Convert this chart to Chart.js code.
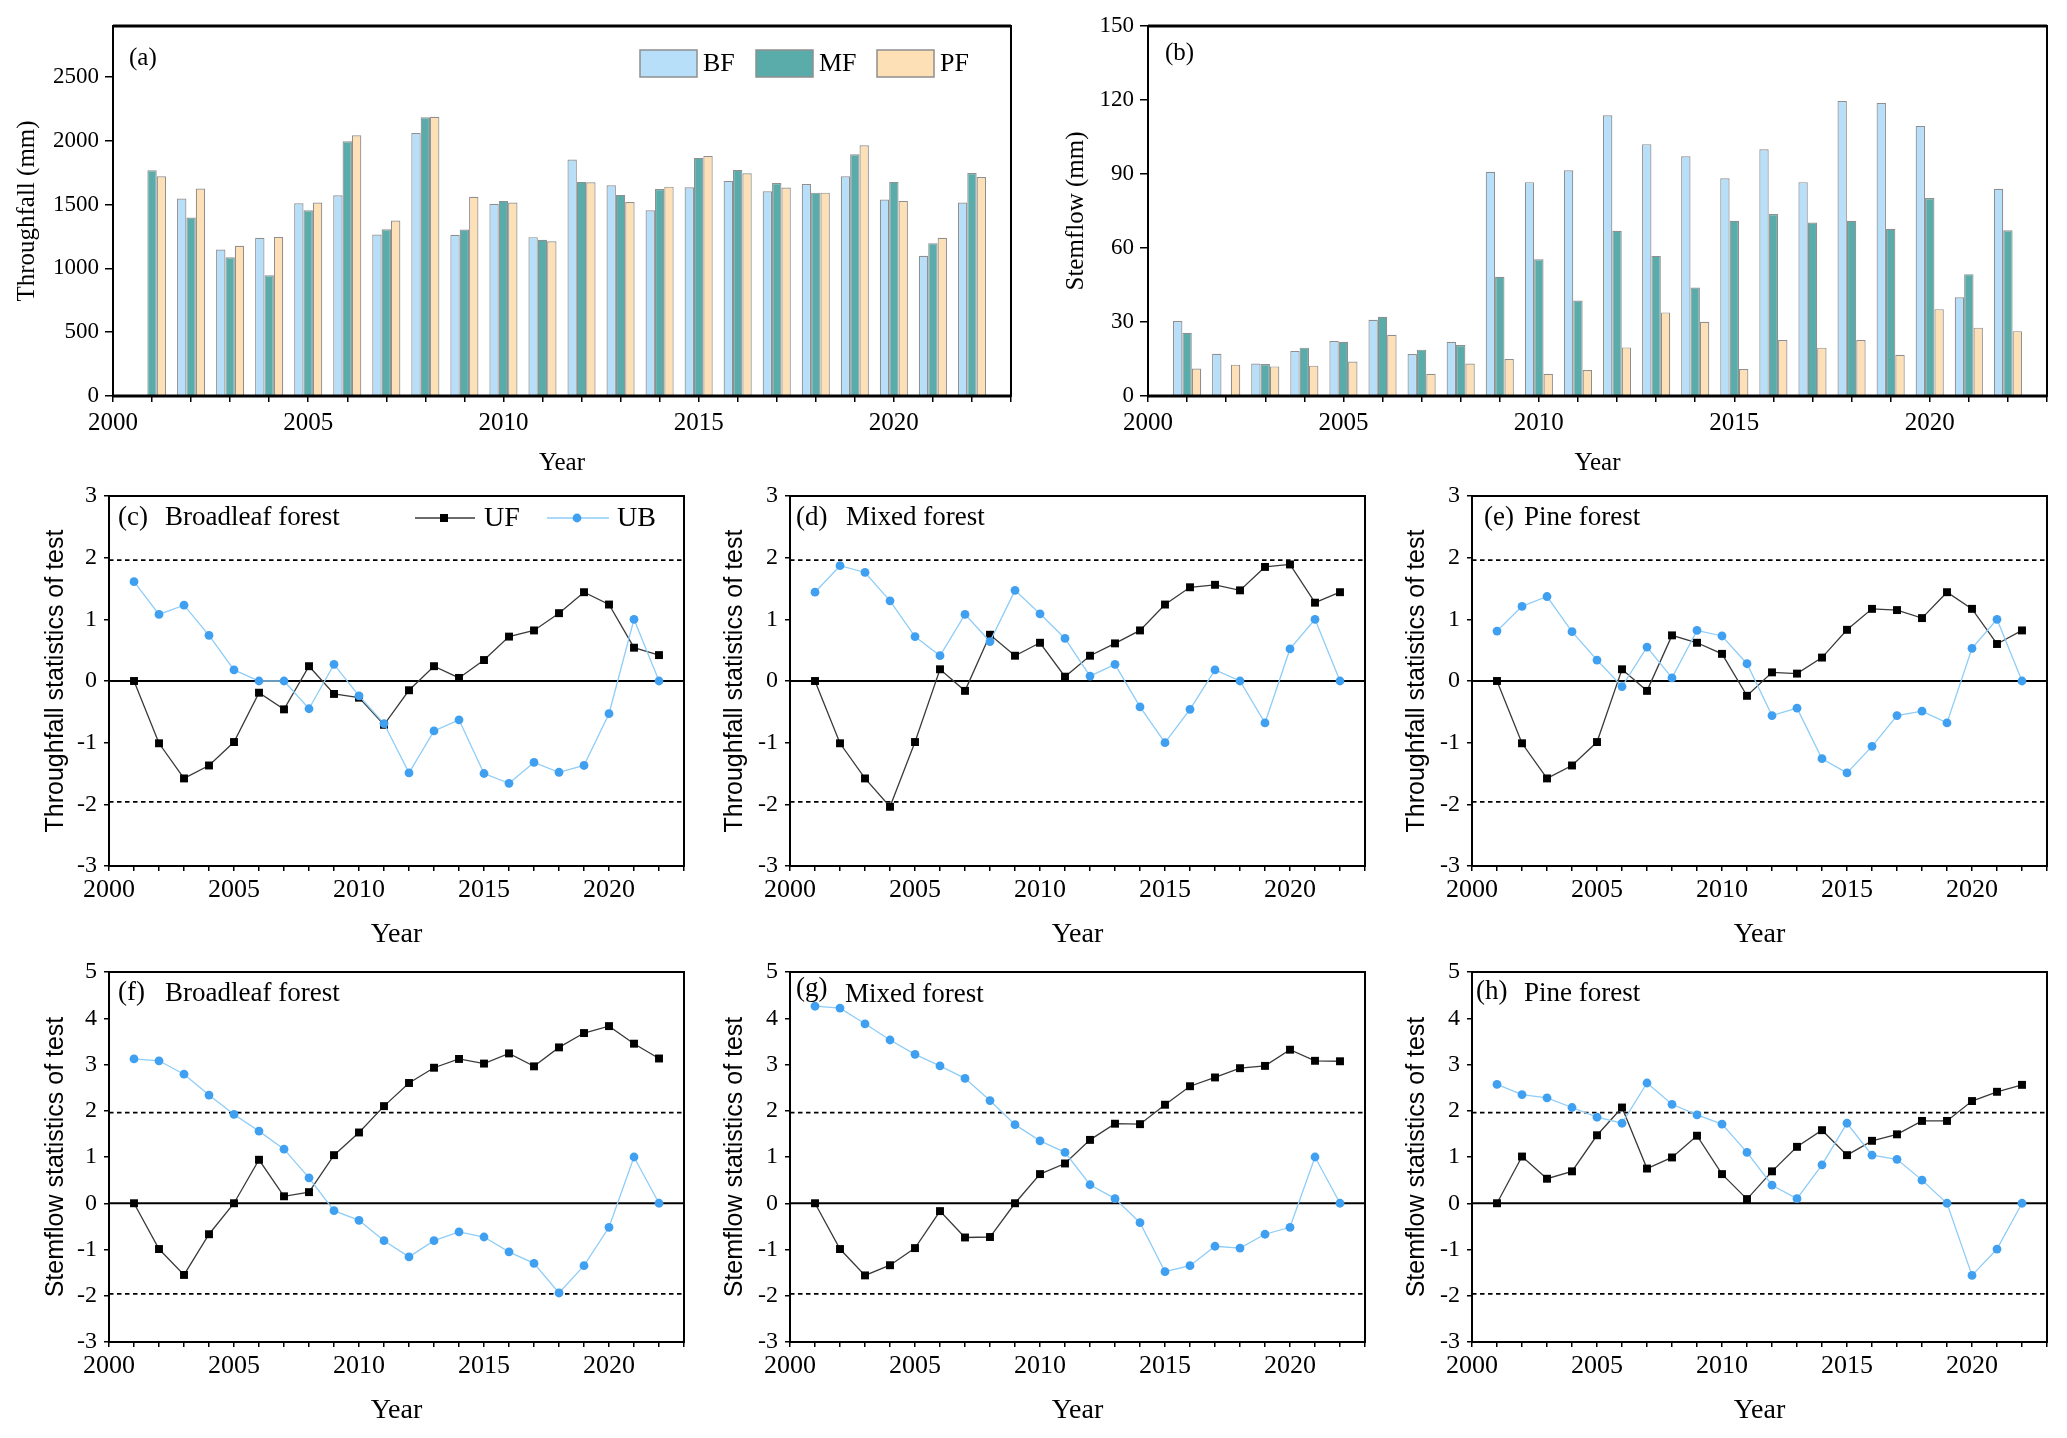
<!DOCTYPE html>
<html><head><meta charset="utf-8">
<script src="https://cdn.jsdelivr.net/npm/chart.js@4.4.1/dist/chart.umd.min.js"></script>
<style>
html,body{margin:0;padding:0;background:#fff;}
body{width:2067px;height:1438px;position:relative;overflow:hidden;}
canvas{position:absolute;}
</style></head><body>
<script>
// ---------------- DATA ----------------
const years = [2001,2002,2003,2004,2005,2006,2007,2008,2009,2010,2011,2012,2013,2014,2015,2016,2017,2018,2019,2020,2021,2022];
const xTickLabels = [2000,2005,2010,2015,2020];
const yTicksTF = [0,500,1000,1500,2000,2500];
const yTicksSF = [0,30,60,90,120,150];
const yTicksTest1 = [-3,-2,-1,0,1,2,3];
const yTicksTest2 = [-3,-2,-1,0,1,2,3,4,5];

// (a) Throughfall (mm)
const tfBF = [null,1547,1148,1240,1511,1574,1266,2062,1263,1506,1245,1853,1652,1456,1636,1686,1605,1662,1722,1540,1099,1516];
const tfMF = [1769,1399,1088,947,1456,1996,1307,2184,1305,1529,1224,1678,1576,1623,1866,1772,1670,1594,1895,1678,1198,1748];
const tfPF = [1722,1626,1177,1247,1516,2043,1375,2189,1561,1516,1213,1675,1521,1641,1882,1746,1634,1594,1965,1529,1240,1717];

// (b) Stemflow (mm)
const sfBF = [30.4,17.1,13.2,18.2,22.3,30.9,17.0,22.0,90.9,86.7,91.5,113.8,102.1,97.2,88.3,100.0,86.7,119.6,118.8,109.5,40.0,84.0];
const sfMF = [25.6,null,13.0,19.6,22.0,32.1,18.8,20.7,48.3,55.4,38.7,67.0,56.8,44.0,71.0,73.8,70.3,71.0,67.8,80.3,49.4,67.2];
const sfPF = [11.1,12.7,12.0,12.3,14.0,24.8,9.0,13.2,15.0,9.0,10.5,19.7,33.9,30.1,10.9,22.7,19.6,22.7,16.7,35.2,27.7,26.3];

// (c) Throughfall, broadleaf
const tfBroadUF = [0,-1.01,-1.58,-1.37,-0.99,-0.19,-0.46,0.24,-0.21,-0.27,-0.71,-0.15,0.24,0.05,0.34,0.72,0.82,1.10,1.44,1.24,0.54,0.42];
const tfBroadUB = [1.61,1.08,1.23,0.74,0.18,0,0,-0.45,0.27,-0.24,-0.69,-1.49,-0.81,-0.63,-1.50,-1.66,-1.32,-1.48,-1.37,-0.53,1.0,0];
// (d) Throughfall, mixed
const tfMixUF = [0,-1.01,-1.58,-2.04,-0.99,0.19,-0.16,0.75,0.41,0.62,0.07,0.41,0.61,0.82,1.24,1.52,1.56,1.47,1.85,1.89,1.27,1.44];
const tfMixUB = [1.44,1.87,1.76,1.30,0.72,0.41,1.08,0.64,1.47,1.09,0.69,0.08,0.27,-0.42,-1.0,-0.46,0.18,0,-0.68,0.52,1.0,0];
// (e) Throughfall, pine
const tfPineUF = [0,-1.01,-1.58,-1.37,-0.99,0.19,-0.16,0.74,0.62,0.44,-0.24,0.14,0.12,0.38,0.83,1.17,1.15,1.02,1.44,1.17,0.60,0.82];
const tfPineUB = [0.81,1.21,1.37,0.80,0.34,-0.09,0.55,0.05,0.82,0.73,0.28,-0.56,-0.44,-1.26,-1.49,-1.06,-0.56,-0.49,-0.68,0.53,1.0,0];
// (f) Stemflow, broadleaf
const sfBroadUF = [0,-0.99,-1.55,-0.67,0,0.94,0.15,0.24,1.04,1.53,2.10,2.60,2.93,3.12,3.02,3.24,2.96,3.37,3.68,3.83,3.45,3.13];
const sfBroadUB = [3.12,3.08,2.79,2.34,1.92,1.56,1.17,0.55,-0.16,-0.37,-0.81,-1.16,-0.81,-0.62,-0.73,-1.05,-1.30,-1.94,-1.35,-0.52,1.0,0];
// (g) Stemflow, mixed
const sfMixUF = [0,-0.99,-1.56,-1.34,-0.97,-0.17,-0.74,-0.73,0,0.63,0.86,1.37,1.72,1.71,2.13,2.53,2.72,2.92,2.97,3.32,3.08,3.07];
const sfMixUB = [4.26,4.22,3.88,3.53,3.22,2.97,2.70,2.22,1.70,1.35,1.10,0.40,0.10,-0.42,-1.48,-1.35,-0.93,-0.97,-0.67,-0.52,1.0,0];
// (h) Stemflow, pine
const sfPineUF = [0,1.01,0.53,0.69,1.47,2.07,0.75,0.99,1.46,0.63,0.09,0.69,1.22,1.58,1.04,1.35,1.49,1.78,1.78,2.21,2.41,2.56];
const sfPineUB = [2.57,2.35,2.28,2.07,1.86,1.73,2.60,2.14,1.91,1.71,1.10,0.39,0.10,0.83,1.73,1.04,0.95,0.50,0,-1.56,-0.99,0];

const criticalValue = 1.96;

// ---------------- STYLE ----------------
const SERIF = '"Liberation Serif", "Times New Roman", serif';
const SANS = '"Liberation Sans", Arial, sans-serif';
const C_BF = '#b8dff9', C_MF = '#5aacaa', C_PF = '#fde0b5', C_BAR_BORDER = '#8f8f8f';
const C_UF_LINE = '#3a3a3a', C_UF_PT = '#000000';
const C_UB_LINE = '#8ecdf8', C_UB_PT = '#3f9ff0';

const xTickValues = [2000].concat(years, [2023]);

function xy(vals){ return years.map((y,i)=>({x:y, y:vals[i]})); }

function makePanel(o){
  const [L,T,R,B] = o.plot;
  const padTop = 20;
  const cl = Math.round(o.titleX - 0.6*o.yTitleSize);
  const ct = T - padTop;
  const cr = Math.min(2067, R + 16);
  const cb = Math.round(o.yearY + 0.6*o.yearSize);
  const W = L - cl, H = cb - B, padRight = cr - R;
  const cv = document.createElement('canvas');
  cv.width = cr - cl; cv.height = cb - ct;
  cv.style.left = cl+'px'; cv.style.top = ct+'px';
  cv.style.width = (cr-cl)+'px'; cv.style.height = (cb-ct)+'px';
  document.body.appendChild(cv);

  const deco = {
    id:'deco'+o.id,
    beforeDatasetsDraw(chart){
      if(!o.refLines) return;
      const ctx = chart.ctx, a = chart.chartArea, ys = chart.scales.y;
      ctx.save();
      ctx.strokeStyle = '#000';
      ctx.lineWidth = 1.6;
      ctx.setLineDash([4.5,3.5]);
      [criticalValue, -criticalValue].forEach(v=>{
        const p = ys.getPixelForValue(v);
        ctx.beginPath(); ctx.moveTo(a.left,p); ctx.lineTo(a.right,p); ctx.stroke();
      });
      ctx.setLineDash([]);
      ctx.lineWidth = 2.2;
      const p0 = ys.getPixelForValue(0);
      ctx.beginPath(); ctx.moveTo(a.left,p0); ctx.lineTo(a.right,p0); ctx.stroke();
      ctx.restore();
    },
    afterDraw(chart){
      const ctx = chart.ctx, a = chart.chartArea;
      ctx.save();
      ctx.strokeStyle = '#000'; ctx.lineWidth = 2;
      ctx.strokeRect(a.left, a.top, a.right-a.left, a.bottom-a.top);
      if(o.barBase){
        ctx.lineWidth = 3;
        ctx.beginPath(); ctx.moveTo(a.left, a.bottom); ctx.lineTo(a.right, a.bottom); ctx.stroke();
        ctx.beginPath(); ctx.moveTo(a.left, a.top); ctx.lineTo(a.right, a.top); ctx.stroke();
      }
      ctx.fillStyle = '#000'; ctx.textBaseline = 'middle'; ctx.textAlign = 'left';
      (o.labels||[]).forEach(l=>{
        ctx.font = l.size+'px '+SERIF;
        ctx.fillText(l.text, a.left+l.dx, a.top+l.dy);
      });
      if(o.legend) o.legend(ctx, a);
      ctx.restore();
    }
  };

  new Chart(cv, {
    type: o.type,
    data: {datasets: o.datasets},
    options: {
      responsive:false, animation:false, devicePixelRatio:1,
      layout:{padding:{top:padTop, right:padRight, left:0, bottom:0}},
      plugins:{legend:{display:false}, tooltip:{enabled:false}},
      categoryPercentage: 0.72, barPercentage: 1.0,
      scales:{
        x:{
          type:'linear', min:2000, max:2023, offset:false,
          grid:{display:true, drawOnChartArea:false, drawTicks:true, tickLength:o.xTickLen, color:'#000', lineWidth:1.5, offset:false},
          border:{display:true, color:'#000', width:2},
          ticks:{autoSkip:false, maxRotation:0, minRotation:0, padding:o.xTickPad, color:'#000',
                 font:{family:SERIF, size:o.xTickSize},
                 callback:(v)=> xTickLabels.includes(v) ? String(v) : ''},
          afterBuildTicks:(s)=>{ s.ticks = xTickValues.map(v=>({value:v})); },
          title:{display:true, text:'Year', color:'#000', padding:0, font:{family:SERIF, size:o.yearSize}},
          afterFit:(s)=>{ s.height = H; s.paddingLeft = 0; s.paddingRight = 0; }
        },
        y:{
          type:'linear', min:o.yMin, max:o.yMax,
          grid:{display:true, drawOnChartArea:false, drawTicks:true, tickLength:o.yTickLen, color:'#000', lineWidth:1.5},
          border:{display:true, color:'#000', width:2},
          ticks:{autoSkip:false, padding:o.yTickPad, color:'#000',
                 font:{family:SERIF, size:o.yTickSize},
                 callback:(v)=> String(v)},
          afterBuildTicks:(s)=>{ s.ticks = o.yTicks.map(v=>({value:v})); },
          title:{display:true, text:o.yTitle, color:'#000', padding:0, font:{family:o.yTitleFont, size:o.yTitleSize}},
          afterFit:(s)=>{ s.width = W; s.paddingTop = 0; s.paddingBottom = 0; }
        }
      }
    },
    plugins:[deco]
  });
}

function barDs(label, vals, color){
  return {label, data: xy(vals), backgroundColor: color, borderColor: C_BAR_BORDER, borderWidth: 1.2, borderSkipped:'start'};
}
function lineDs(label, vals, isUF){
  return isUF ? {label, data: xy(vals), borderColor: C_UF_LINE, borderWidth: 1.3, pointStyle:'rect', pointRadius:5.6,
                  pointBackgroundColor: C_UF_PT, pointBorderColor: C_UF_PT, pointBorderWidth:0, tension:0, order:1}
              : {label, data: xy(vals), borderColor: C_UB_LINE, borderWidth: 1.3, pointStyle:'circle', pointRadius:4.4,
                  pointBackgroundColor: C_UB_PT, pointBorderColor: C_UB_PT, pointBorderWidth:0, tension:0, order:0};
}

function barLegend(ctx, a){
  const items = [['BF',C_BF,527],['MF',C_MF,643],['PF',C_PF,764]];
  items.forEach(([t,c,dx])=>{
    const x = a.left+dx, y = a.top+24, w = 57, h = 27;
    ctx.fillStyle = c; ctx.fillRect(x,y,w,h);
    ctx.strokeStyle = C_BAR_BORDER; ctx.lineWidth = 1.5; ctx.strokeRect(x,y,w,h);
    ctx.fillStyle = '#000'; ctx.font = '26px '+SERIF; ctx.textBaseline='middle';
    ctx.fillText(t, x+w+6, y+h/2+1);
  });
}
function lineLegend(ctx, a){
  const y = a.top+22;
  ctx.lineWidth = 1.3;
  ctx.strokeStyle = C_UF_LINE;
  ctx.beginPath(); ctx.moveTo(a.left+306,y); ctx.lineTo(a.left+366,y); ctx.stroke();
  ctx.fillStyle = C_UF_PT; ctx.fillRect(a.left+335-4,y-4,8,8);
  ctx.strokeStyle = C_UB_LINE;
  ctx.beginPath(); ctx.moveTo(a.left+438,y); ctx.lineTo(a.left+500,y); ctx.stroke();
  ctx.fillStyle = C_UB_PT; ctx.beginPath(); ctx.arc(a.left+468,y,4.4,0,Math.PI*2); ctx.fill();
  ctx.fillStyle = '#000'; ctx.font = '28px '+SERIF; ctx.textBaseline='middle';
  ctx.fillText('UF', a.left+375, y+1);
  ctx.fillText('UB', a.left+508, y+1);
}

const topCommon = {type:'bar', yTitleFont:SERIF, yTitleSize:25, yTickSize:23, yTickLen:8, yTickPad:6, xTickSize:25, xTickLen:6, xTickPad:6, yearY:463, yearSize:25, barBase:true};
makePanel(Object.assign({}, topCommon, {id:'a', plot:[113,26,1011,396], titleX:27, yTitle:'Throughfall (mm)', yMin:0, yMax:2900, yTicks:yTicksTF,
  datasets:[barDs('BF',tfBF,C_BF), barDs('MF',tfMF,C_MF), barDs('PF',tfPF,C_PF)],
  labels:[{text:'(a)', dx:16, dy:32, size:25}], legend:barLegend}));
makePanel(Object.assign({}, topCommon, {id:'b', plot:[1148,26,2047,396], titleX:1076, yTitle:'Stemflow (mm)', yMin:0, yMax:150, yTicks:yTicksSF,
  datasets:[barDs('BF',sfBF,C_BF), barDs('MF',sfMF,C_MF), barDs('PF',sfPF,C_PF)],
  labels:[{text:'(b)', dx:17, dy:27, size:25}]}));

const lineCommon = {type:'line', yTitleFont:SANS, yTitleSize:25, yTickSize:24, yTickLen:5, yTickPad:7, xTickSize:26, xTickLen:5, xTickPad:4, yearSize:28, refLines:true};
const rowC = {plotT:496, plotB:866, yearY:934, yMin:-3, yMax:3, yTicks:yTicksTest1, yTitle:'Throughfall statistics of test'};
const rowF = {plotT:972, plotB:1342, yearY:1410, yMin:-3, yMax:5, yTicks:yTicksTest2, yTitle:'Stemflow statistics of test'};
const cols = [{L:109,R:684,titleX:56},{L:790,R:1365,titleX:735},{L:1472,R:2047,titleX:1417}];

const panels = [
  {id:'c', row:rowC, col:0, uf:tfBroadUF, ub:tfBroadUB, labels:[{text:'(c)',dx:9,dy:22,size:27},{text:'Broadleaf forest',dx:56,dy:22,size:27}], legend:lineLegend},
  {id:'d', row:rowC, col:1, uf:tfMixUF, ub:tfMixUB, labels:[{text:'(d)',dx:6,dy:22,size:27},{text:'Mixed forest',dx:56,dy:22,size:27}]},
  {id:'e', row:rowC, col:2, uf:tfPineUF, ub:tfPineUB, labels:[{text:'(e)',dx:12,dy:22,size:27},{text:'Pine forest',dx:52,dy:22,size:27}]},
  {id:'f', row:rowF, col:0, uf:sfBroadUF, ub:sfBroadUB, labels:[{text:'(f)',dx:9,dy:21,size:27},{text:'Broadleaf forest',dx:56,dy:22,size:27}]},
  {id:'g', row:rowF, col:1, uf:sfMixUF, ub:sfMixUB, labels:[{text:'(g)',dx:6,dy:17,size:27},{text:'Mixed forest',dx:55,dy:23,size:27}]},
  {id:'h', row:rowF, col:2, uf:sfPineUF, ub:sfPineUB, labels:[{text:'(h)',dx:4,dy:20,size:27},{text:'Pine forest',dx:52,dy:22,size:27}]}
];
panels.forEach(p=>{
  const c = cols[p.col], r = p.row;
  makePanel(Object.assign({}, lineCommon, {id:p.id, plot:[c.L, r.plotT, c.R, r.plotB], titleX:c.titleX, yTitle:r.yTitle,
    yMin:r.yMin, yMax:r.yMax, yTicks:r.yTicks, yearY:r.yearY,
    datasets:[lineDs('UF',p.uf,true), lineDs('UB',p.ub,false)],
    labels:p.labels, legend:p.legend}));
});
</script>
</body></html>
